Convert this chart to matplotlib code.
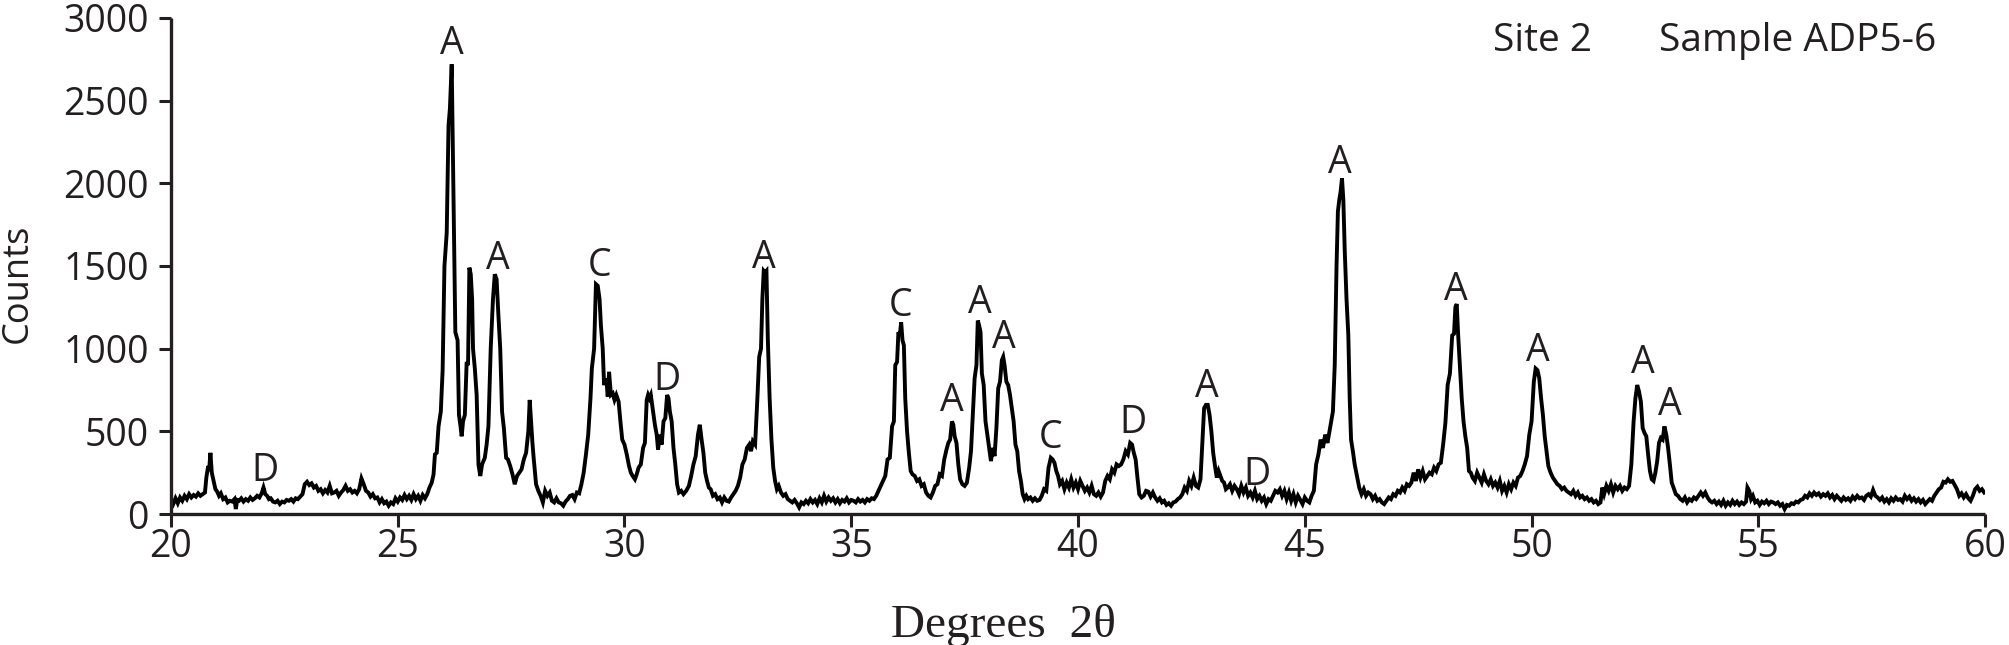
import matplotlib
matplotlib.use("Agg")
import matplotlib.pyplot as plt

# XRD trace: (degrees 2theta, counts)
pattern = [
    (20.00, 85), (20.05, 60), (20.10, 95), (20.15, 65), (20.20, 100), (20.25, 80), (20.30, 110), (20.35, 90),
    (20.40, 120), (20.45, 100), (20.50, 115), (20.55, 105), (20.60, 125), (20.65, 110), (20.70, 120), (20.75, 130),
    (20.78, 220), (20.82, 290), (20.84, 260), (20.87, 370), (20.90, 250), (20.94, 200), (20.98, 150), (21.02, 135),
    (21.06, 110), (21.10, 125), (21.15, 90), (21.20, 100), (21.25, 70), (21.30, 80), (21.35, 75), (21.40, 90),
    (21.43, 30), (21.46, 85), (21.50, 80), (21.55, 95), (21.60, 75), (21.65, 90), (21.70, 80), (21.75, 100),
    (21.80, 85), (21.85, 95), (21.90, 110), (21.95, 100), (22.00, 125), (22.04, 160), (22.08, 120), (22.12, 110),
    (22.16, 90), (22.20, 95), (22.25, 75), (22.30, 70), (22.35, 80), (22.40, 60), (22.45, 75), (22.50, 70),
    (22.55, 85), (22.60, 80), (22.65, 90), (22.70, 75), (22.75, 95), (22.80, 90), (22.85, 105), (22.90, 120),
    (22.95, 180), (23.00, 195), (23.05, 175), (23.10, 185), (23.15, 160), (23.20, 170), (23.25, 140), (23.30, 150),
    (23.35, 125), (23.40, 145), (23.45, 130), (23.50, 170), (23.55, 125), (23.60, 130), (23.65, 140), (23.70, 110),
    (23.75, 130), (23.80, 145), (23.85, 170), (23.90, 140), (23.95, 150), (24.00, 130), (24.05, 140), (24.10, 125),
    (24.15, 150), (24.20, 215), (24.25, 180), (24.30, 140), (24.35, 130), (24.40, 105), (24.45, 120), (24.50, 95),
    (24.55, 100), (24.60, 70), (24.65, 90), (24.70, 65), (24.75, 75), (24.80, 50), (24.85, 70), (24.90, 60),
    (24.95, 95), (25.00, 75), (25.05, 100), (25.10, 85), (25.15, 115), (25.20, 90), (25.25, 110), (25.30, 85),
    (25.35, 120), (25.40, 90), (25.45, 110), (25.50, 80), (25.55, 115), (25.60, 95), (25.65, 120),
    (25.70, 160), (25.75, 190), (25.79, 240), (25.82, 360), (25.86, 370), (25.90, 530), (25.95, 620), (25.99, 870),
    (26.03, 1500), (26.08, 1700), (26.12, 2350), (26.15, 2450), (26.19, 2720), (26.23, 1920), (26.27, 1100),
    (26.32, 1050), (26.35, 600), (26.38, 540), (26.41, 470), (26.44, 560), (26.48, 600), (26.52, 920), (26.55, 900),
    (26.58, 1490), (26.61, 1450), (26.64, 1300), (26.66, 1000), (26.70, 880), (26.74, 720), (26.78, 300),
    (26.82, 230), (26.86, 300), (26.92, 340), (26.96, 420), (27.00, 530), (27.05, 1000), (27.10, 1300),
    (27.14, 1450), (27.18, 1420), (27.22, 1200), (27.26, 1000), (27.30, 620), (27.34, 520), (27.39, 340),
    (27.43, 330), (27.48, 290), (27.53, 240), (27.58, 180), (27.63, 230), (27.68, 250), (27.73, 270), (27.78, 330),
    (27.83, 370), (27.88, 500), (27.91, 690), (27.94, 560), (27.97, 430), (28.00, 330), (28.05, 180), (28.10, 140),
    (28.15, 110), (28.20, 70), (28.25, 140), (28.30, 110), (28.35, 130), (28.40, 80), (28.45, 70), (28.50, 95),
    (28.55, 70), (28.60, 65), (28.65, 50), (28.70, 75), (28.75, 90), (28.80, 110), (28.85, 115), (28.90, 90),
    (28.95, 130), (29.00, 125), (29.05, 180), (29.10, 250), (29.15, 360), (29.20, 480), (29.25, 700), (29.28, 880),
    (29.33, 1000), (29.37, 1390), (29.41, 1380), (29.45, 1300), (29.48, 1140), (29.52, 1000), (29.55, 780),
    (29.60, 820), (29.63, 710), (29.66, 860), (29.70, 720), (29.74, 730), (29.78, 690), (29.82, 720), (29.87, 680),
    (29.91, 560), (29.95, 450), (30.00, 420), (30.05, 360), (30.10, 290), (30.14, 250), (30.18, 230), (30.23, 210),
    (30.27, 240), (30.31, 280), (30.36, 300), (30.41, 400), (30.45, 430),
    (30.49, 690), (30.52, 720), (30.55, 700), (30.58, 720), (30.62, 640), (30.67, 540), (30.71, 480), (30.74, 390),
    (30.78, 480), (30.82, 420), (30.86, 560), (30.90, 580), (30.94, 720), (30.97, 700), (31.00, 620), (31.04, 560),
    (31.08, 400), (31.12, 300), (31.16, 180), (31.20, 130), (31.25, 140), (31.30, 120), (31.36, 140), (31.42, 170),
    (31.47, 230), (31.52, 300), (31.57, 350), (31.62, 480), (31.66, 540), (31.70, 450), (31.74, 370), (31.78, 250),
    (31.82, 200), (31.86, 160), (31.90, 150), (31.95, 110), (32.00, 120), (32.05, 90), (32.10, 100), (32.15, 70),
    (32.20, 100), (32.25, 80), (32.30, 75), (32.35, 100), (32.40, 120), (32.45, 140), (32.50, 170), (32.55, 220),
    (32.60, 300), (32.65, 330), (32.70, 400), (32.75, 420), (32.79, 380), (32.83, 440), (32.88, 420), (32.93, 700),
    (32.97, 950), (33.01, 1000), (33.04, 1300), (33.07, 1470), (33.10, 1460), (33.13, 1470), (33.16, 1060),
    (33.20, 700), (33.24, 450), (33.28, 280), (33.32, 200), (33.36, 150), (33.40, 170), (33.45, 130), (33.50, 110),
    (33.55, 120), (33.60, 90), (33.65, 80), (33.70, 70), (33.75, 85), (33.80, 65), (33.85, 40), (33.90, 70),
    (33.95, 60), (34.00, 80), (34.05, 65), (34.10, 90), (34.15, 70), (34.20, 85), (34.25, 60), (34.30, 95),
    (34.35, 70), (34.40, 110), (34.45, 75), (34.50, 100), (34.55, 80), (34.60, 95), (34.65, 70), (34.70, 90),
    (34.75, 65), (34.80, 85), (34.85, 75), (34.90, 95), (34.95, 70), (35.00, 85), (35.05, 80), (35.10, 70),
    (35.15, 90), (35.20, 75), (35.25, 85), (35.30, 70), (35.35, 90), (35.40, 80), (35.45, 95), (35.50, 90),
    (35.55, 110), (35.60, 140), (35.65, 170), (35.70, 200),
    (35.75, 230), (35.80, 330), (35.85, 340), (35.90, 530), (35.94, 560), (35.97, 900), (36.01, 920), (36.04, 1100),
    (36.07, 1080), (36.10, 1160), (36.13, 1050), (36.16, 1020), (36.19, 700), (36.23, 500), (36.27, 370),
    (36.31, 260), (36.35, 240), (36.40, 230), (36.45, 200), (36.50, 210), (36.55, 170), (36.60, 180), (36.65, 130),
    (36.70, 110), (36.75, 100), (36.80, 130), (36.85, 170), (36.90, 180), (36.95, 240), (37.00, 230), (37.05, 330),
    (37.10, 390), (37.14, 430), (37.18, 450), (37.22, 560), (37.25, 540), (37.28, 470), (37.32, 430), (37.36, 300),
    (37.40, 210), (37.45, 180), (37.50, 170), (37.55, 190), (37.60, 280), (37.64, 380), (37.68, 600), (37.72, 820),
    (37.76, 900), (37.79, 1170), (37.82, 1140), (37.85, 1100), (37.88, 850), (37.92, 780), (37.96, 560),
    (38.00, 480), (38.04, 400), (38.08, 320), (38.12, 400), (38.16, 350), (38.20, 520), (38.24, 760), (38.28, 800),
    (38.32, 930), (38.35, 950), (38.38, 900), (38.42, 800), (38.46, 780), (38.50, 720), (38.54, 640), (38.58, 560),
    (38.62, 420), (38.66, 380), (38.70, 260), (38.74, 200), (38.78, 120), (38.82, 90), (38.86, 110), (38.90, 90),
    (38.95, 100), (39.00, 80), (39.05, 95), (39.10, 80), (39.15, 85), (39.20, 110), (39.25, 150), (39.30, 140),
    (39.35, 280), (39.40, 340), (39.44, 330), (39.48, 310), (39.52, 260), (39.56, 230), (39.60, 180), (39.65, 200),
    (39.70, 150), (39.75, 190), (39.80, 160), (39.85, 210), (39.90, 160), (39.95, 190), (40.00, 150), (40.05, 200),
    (40.10, 170), (40.15, 140), (40.20, 160), (40.25, 130), (40.30, 170), (40.35, 120), (40.40, 110), (40.45, 130),
    (40.50, 105), (40.55, 130), (40.60, 200), (40.65, 230), (40.70, 210), (40.75, 270), (40.80, 250), (40.85, 300),
    (40.90, 290), (40.95, 300), (41.00, 330), (41.05, 380), (41.10, 360), (41.15, 430), (41.19, 420), (41.23, 370),
    (41.27, 330), (41.31, 220), (41.35, 120), (41.40, 100), (41.45, 110), (41.50, 140), (41.55, 135), (41.60, 105),
    (41.65, 130), (41.70, 100), (41.75, 80), (41.80, 95), (41.85, 70), (41.90, 80), (41.95, 55), (42.00, 65),
    (42.05, 50), (42.10, 70), (42.15, 75), (42.20, 90), (42.25, 100), (42.30, 120), (42.35, 160), (42.40, 140),
    (42.45, 200), (42.50, 170), (42.55, 220), (42.60, 170), (42.65, 160), (42.70, 210), (42.74, 430), (42.78, 640),
    (42.82, 660), (42.86, 660), (42.90, 600), (42.94, 500), (42.98, 370), (43.02, 290), (43.06, 220), (43.10, 260),
    (43.14, 230), (43.18, 200), (43.22, 190), (43.26, 150), (43.30, 160), (43.35, 180), (43.40, 140), (43.45, 170),
    (43.50, 150), (43.55, 120), (43.60, 170), (43.65, 130), (43.70, 160), (43.75, 110), (43.80, 130), (43.85, 100),
    (43.90, 140), (43.95, 90), (44.00, 110), (44.05, 80), (44.10, 100), (44.15, 60), (44.20, 90), (44.25, 80),
    (44.30, 110), (44.35, 140), (44.40, 130), (44.45, 150), (44.50, 110), (44.55, 140), (44.60, 90), (44.65, 130),
    (44.70, 80), (44.75, 120), (44.80, 70), (44.85, 110), (44.90, 85), (44.95, 60), (45.00, 100), (45.05, 80),
    (45.10, 70), (45.15, 110), (45.20, 140), (45.25, 300), (45.30, 360), (45.35, 450), (45.40, 400), (45.45, 480),
    (45.50, 430), (45.55, 510), (45.58, 560), (45.62, 620), (45.66, 900), (45.70, 1500), (45.73, 1830),
    (45.76, 1900), (45.79, 1950), (45.82, 2030), (45.85, 1900), (45.88, 1600), (45.92, 1300), (45.96, 1080),
    (45.99, 700), (46.02, 450), (46.06, 380), (46.10, 300), (46.15, 230), (46.20, 160), (46.25, 120), (46.30, 150),
    (46.35, 110), (46.40, 130), (46.45, 120), (46.50, 90), (46.55, 110), (46.60, 80), (46.65, 90), (46.70, 70),
    (46.75, 60), (46.80, 80), (46.85, 100), (46.90, 90), (46.95, 120), (47.00, 110), (47.05, 140), (47.10, 130),
    (47.15, 160), (47.20, 140), (47.25, 180), (47.30, 170), (47.35, 190), (47.40, 250), (47.45, 200), (47.50, 270),
    (47.55, 220), (47.60, 260), (47.65, 210), (47.70, 230), (47.75, 250), (47.80, 240), (47.85, 280), (47.90, 260),
    (47.95, 300), (48.00, 310), (48.05, 420), (48.10, 550), (48.15, 780), (48.20, 850), (48.25, 1080),
    (48.29, 1090), (48.32, 1250), (48.35, 1270), (48.38, 1090), (48.42, 900), (48.46, 700), (48.50, 560),
    (48.54, 470), (48.58, 400), (48.62, 260), (48.66, 250), (48.70, 220), (48.75, 200), (48.80, 250), (48.85, 220),
    (48.90, 190), (48.95, 240), (49.00, 200), (49.05, 180), (49.10, 210), (49.15, 170), (49.20, 190), (49.25, 160),
    (49.30, 200), (49.35, 140), (49.40, 170), (49.45, 130), (49.50, 180), (49.55, 150), (49.60, 190), (49.65, 170),
    (49.70, 220), (49.75, 230), (49.80, 260), (49.85, 300), (49.90, 350), (49.95, 480), (50.00, 560), (50.05, 800),
    (50.09, 880), (50.13, 870), (50.17, 820), (50.21, 700), (50.25, 600), (50.29, 470), (50.33, 380), (50.37, 290),
    (50.42, 250), (50.47, 220), (50.52, 200), (50.57, 180), (50.62, 170), (50.67, 150), (50.72, 160), (50.77, 140),
    (50.82, 130), (50.87, 120), (50.92, 140), (50.97, 110), (51.02, 130), (51.07, 100), (51.12, 110), (51.17, 90),
    (51.22, 100), (51.27, 80), (51.32, 90), (51.37, 70), (51.42, 80), (51.47, 60), (51.52, 70), (51.56, 160),
    (51.60, 120), (51.65, 170), (51.70, 140), (51.75, 180), (51.80, 130), (51.85, 170), (51.90, 150), (51.95, 170),
    (52.00, 140), (52.05, 160), (52.10, 150), (52.15, 170), (52.20, 300), (52.25, 560), (52.29, 700), (52.33, 780),
    (52.37, 740), (52.41, 680), (52.45, 520), (52.49, 490), (52.53, 470), (52.57, 360), (52.61, 260), (52.65, 210),
    (52.69, 200), (52.73, 250), (52.77, 320), (52.81, 430), (52.85, 460), (52.89, 450), (52.93, 530), (52.97, 480),
    (53.01, 400), (53.05, 300), (53.09, 190), (53.13, 160), (53.18, 120), (53.23, 110), (53.28, 90), (53.33, 80),
    (53.38, 100), (53.43, 70), (53.48, 90), (53.53, 80), (53.58, 100), (53.63, 90), (53.68, 110), (53.73, 130),
    (53.78, 110), (53.83, 130), (53.88, 100), (53.93, 80), (53.98, 70), (54.03, 80), (54.08, 60), (54.13, 75),
    (54.18, 55), (54.23, 80), (54.28, 50), (54.33, 70), (54.38, 55), (54.43, 80), (54.48, 60), (54.53, 75),
    (54.58, 55), (54.63, 70), (54.68, 60), (54.73, 75), (54.76, 160), (54.80, 140), (54.84, 90), (54.88, 110),
    (54.93, 70), (54.98, 80), (55.03, 55), (55.08, 75), (55.13, 65), (55.18, 80), (55.23, 60), (55.28, 75),
    (55.33, 70), (55.38, 60), (55.43, 70), (55.48, 50), (55.53, 60), (55.58, 30), (55.63, 55), (55.68, 50),
    (55.73, 65), (55.78, 60), (55.83, 75), (55.88, 70), (55.93, 85), (55.98, 90), (56.03, 110), (56.08, 100),
    (56.13, 125), (56.18, 110), (56.23, 130), (56.28, 115), (56.33, 125), (56.38, 105), (56.43, 120), (56.48, 110),
    (56.53, 125), (56.58, 100), (56.63, 115), (56.68, 90), (56.73, 110), (56.78, 95), (56.83, 80), (56.88, 100),
    (56.93, 85), (56.98, 95), (57.03, 80), (57.08, 105), (57.13, 90), (57.18, 110), (57.23, 95), (57.28, 100),
    (57.33, 85), (57.38, 110), (57.43, 120), (57.48, 105), (57.53, 145), (57.58, 110), (57.63, 100), (57.68, 85),
    (57.73, 100), (57.78, 75), (57.83, 90), (57.88, 70), (57.93, 95), (57.98, 80), (58.03, 100), (58.08, 85),
    (58.13, 90), (58.18, 75), (58.23, 110), (58.28, 90), (58.33, 105), (58.38, 80), (58.43, 95), (58.48, 75),
    (58.53, 90), (58.58, 70), (58.63, 85), (58.68, 60), (58.73, 75), (58.78, 90), (58.83, 80), (58.88, 110),
    (58.93, 130), (58.98, 150), (59.03, 160), (59.08, 195), (59.13, 190), (59.18, 210), (59.23, 195), (59.28, 200),
    (59.33, 175), (59.38, 150), (59.43, 110), (59.48, 125), (59.53, 100), (59.58, 120), (59.63, 95), (59.68, 80),
    (59.73, 110), (59.78, 150), (59.83, 165), (59.88, 140), (59.93, 150), (59.98, 130),
]

# phase labels above the peaks
peak_labels = ["D", "A", "A", "C", "D", "A", "C", "A", "A", "A", "C", "D", "A", "D", "A", "A", "A", "A", "A"]
label_x = [22.08, 26.20, 27.21, 29.44, 30.94, 33.07, 36.09, 37.21, 37.83, 38.37, 39.40, 41.22,
           42.83, 43.94, 45.77, 48.34, 50.13, 52.45, 53.06]
label_y = [200, 2780, 1480, 1440, 750, 1490, 1195, 620, 1215, 1005, 400, 490,
           705, 175, 2065, 1295, 925, 855, 600]

x_ticks = [20, 25, 30, 35, 40, 45, 50, 55, 60]
y_ticks = [0, 500, 1000, 1500, 2000, 2500, 3000]

two_theta = [p[0] for p in pattern]
counts = [p[1] for p in pattern]

ink = "#231f20"
sans = "Open Sans"

fig = plt.figure(figsize=(20.09, 6.45), dpi=100)
ax = fig.add_axes([0.0851, 0.2031, 0.903, 0.7690])

ax.plot(two_theta, counts, color="black", lw=2.8, solid_joinstyle="miter")

for lab, lx, ly in zip(peak_labels, label_x, label_y):
    ax.text(lx, ly, lab, ha="center", va="baseline", fontsize=27, family=sans, color=ink)

ax.set_xlim(20, 60)
ax.set_ylim(0, 3000)
ax.set_xticks(x_ticks)
ax.set_yticks(y_ticks)

for s in ["top", "right"]:
    ax.spines[s].set_visible(False)
for s in ["left", "bottom"]:
    ax.spines[s].set_linewidth(2.4)
    ax.spines[s].set_color(ink)
    ax.spines[s].set_capstyle("butt")

ax.tick_params(axis="both", direction="out", length=9, width=2.2, color=ink,
               labelsize=27, labelcolor=ink)
ax.tick_params(axis="x", pad=1)
ax.tick_params(axis="y", pad=7)
for t in ax.get_xticklabels() + ax.get_yticklabels():
    t.set_family(sans)

fig.text(0.009, 0.56, "Counts", rotation=90, ha="center", va="center",
         fontsize=26, family=sans, color=ink)
fig.text(0.4995, 0.03, "Degrees  2θ", ha="center", va="center",
         fontsize=34, family="Liberation Serif", color=ink)

fig.text(0.743, 0.921, "Site 2", ha="left", va="baseline", fontsize=28, family=sans, color=ink)
fig.text(0.826, 0.921, "Sample ADP5-6", ha="left", va="baseline", fontsize=28, family=sans, color=ink)

fig.savefig("out.png", dpi=100, facecolor="white")
